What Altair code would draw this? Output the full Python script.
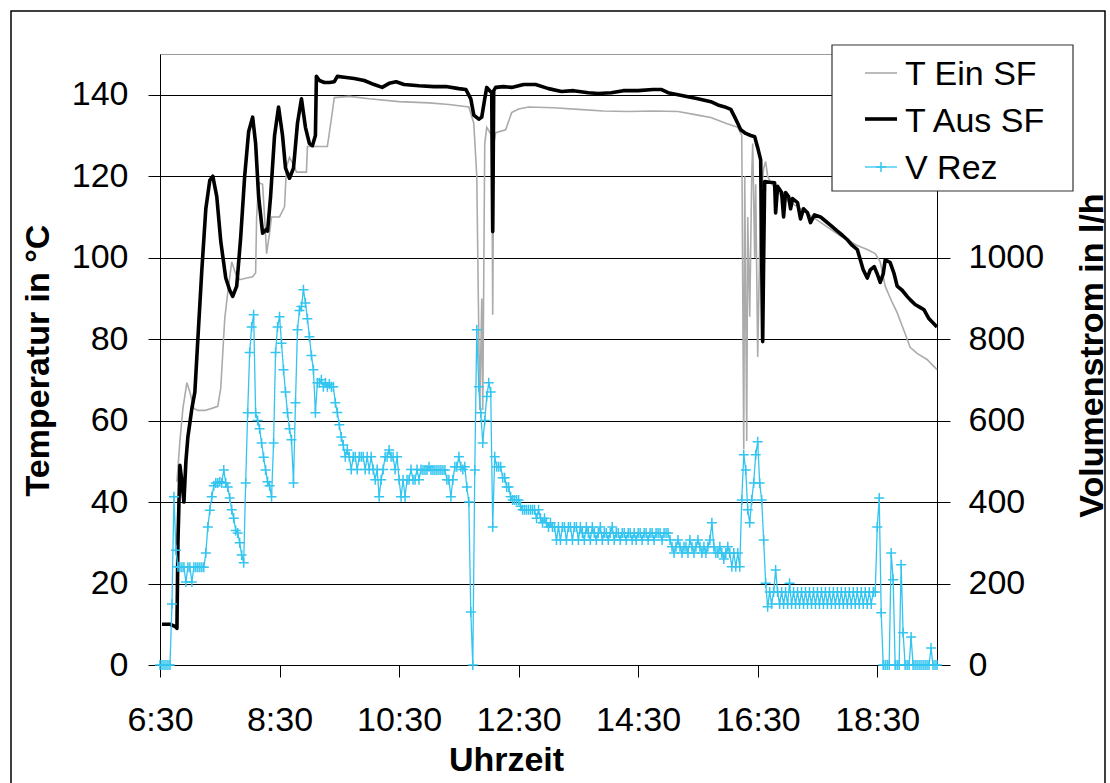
import altair as alt
import pandas as pd

# ---------------- data (time in minutes since midnight) ----------------
T_AUS = [(392, 10), (400, 10), (405, 9.5), (407, 9), (408, 30), (410, 49), (412, 45), (414, 40),
         (416, 50), (418, 56), (422, 63), (425, 67), (428, 80), (432, 97), (436, 112), (440, 119),
         (443, 120), (447, 115), (451, 104), (456, 95), (460, 92), (463, 90.5), (467, 93), (471, 105),
         (475, 120), (479, 131), (483, 134.5), (486, 128), (489, 115), (493, 106), (497, 107),
         (498, 106.5), (501, 115), (505, 130), (509, 137), (513, 130), (516, 122), (520, 119.5),
         (524, 122), (528, 133), (532, 139), (536, 132), (540, 128), (543, 127.5), (546, 130),
         (547, 144.5), (550, 143.5), (555, 143), (560, 143), (565, 143.2), (568, 144.5), (575, 144.3),
         (585, 144), (595, 143.5), (605, 142.5), (613, 141.8), (620, 142.8), (627, 143.2), (635, 142.5),
         (650, 142.2), (665, 142), (677, 142), (690, 141.5), (697, 141.3), (702, 139), (705, 135),
         (710, 134), (713, 134.5), (716, 139), (718, 141.8), (721, 141), (723, 140.5), (724, 106.4),
         (725, 141), (727, 141.8), (735, 142), (743, 141.8), (755, 142.5), (767, 142.5), (780, 141.5),
         (793, 140.8), (805, 141), (820, 140.5), (830, 140.3), (843, 140.5), (855, 141), (870, 141),
         (885, 141.3), (893, 141.3), (900, 140.5), (910, 140), (920, 139.5), (930, 139), (943, 138.3),
         (950, 137.5), (957, 137), (963, 136.4), (968, 134), (973, 131.4), (978, 130.5), (983, 130),
         (987, 129.7), (990, 127), (993, 124), (994, 100), (995, 79.4), (996, 100), (997, 118.7),
         (1002, 118.5), (1007, 118.4), (1008, 111), (1010, 117.5), (1014, 116), (1016, 110),
         (1018, 116), (1021, 115), (1023, 112), (1025, 114.5), (1030, 113.5), (1033, 109.5),
         (1036, 112), (1040, 111), (1043, 108.6), (1047, 110.5), (1053, 110), (1058, 109), (1063, 108),
         (1070, 106.5), (1075, 105.5), (1080, 104.4), (1085, 103), (1090, 102), (1093, 99.5),
         (1096, 97), (1100, 95), (1103, 97), (1107, 97.8), (1110, 96), (1113, 93.9), (1116, 96),
         (1118, 99.5), (1123, 98.8), (1127, 96), (1130, 93), (1135, 92), (1140, 90.5), (1143, 89.7),
         (1148, 88.5), (1153, 87.8), (1157, 87.2), (1162, 85), (1170, 83)]

T_EIN = [(407, 45), (410, 55), (413, 63), (417, 69.3), (420, 67), (424, 63), (428, 62.5), (435, 62.5),
         (442, 63), (448, 63.5), (451, 68), (453, 76.6), (455, 85), (458, 91.4), (462, 99), (466, 96),
         (470, 94.6), (477, 95), (483, 95.3), (486, 96.3), (487, 110), (489, 118.4), (493, 118),
         (495, 110), (497, 101), (500, 106), (502, 110), (510, 110), (515, 112.5), (517, 122.4),
         (520, 124.6), (523, 123.3), (527, 121), (537, 121), (538, 127.3), (547, 127.3), (558, 127.3),
         (562, 134), (565, 139.3), (580, 139.6), (600, 139), (630, 138.3), (660, 138), (680, 137.6),
         (700, 137), (705, 133), (708, 120), (711, 62.6), (713, 90), (714, 62.6), (716, 128),
         (718, 132), (723, 130), (724, 86), (725, 128), (727, 130.7), (737, 131.4), (743, 135.6),
         (750, 136.5), (760, 137), (785, 136.8), (810, 136.4), (835, 136), (860, 135.9), (885, 136),
         (910, 135.9), (930, 135), (943, 134.4), (958, 133), (970, 132), (974, 130), (976, 53),
         (977, 120), (979, 55), (980, 110), (982, 85.5), (984, 120), (985, 128), (987, 100),
         (988, 118), (990, 75.6), (993, 115), (996, 122), (998, 123.6), (1000, 120), (1002, 119),
         (1010, 116), (1020, 114), (1030, 112.5), (1045, 110), (1063, 107), (1075, 105), (1090, 103),
         (1100, 102), (1108, 101), (1113, 99), (1118, 93), (1125, 89), (1130, 86.5), (1137, 82),
         (1143, 78), (1150, 76.5), (1160, 75), (1170, 72.5)]

# V Rez, logged every 2 minutes from 6:30 (390) to 19:30 (1170), in l/h
V_REZ_START = 390
V_REZ_STEP = 2
V_REZ = [
    0, 0, 0, 0, 0, 0, 150, 413, 282, 241,            # 6:30
    240, 240, 240, 204, 240, 240, 204, 240, 240, 240,  # 6:50
    240, 240, 240, 275, 339, 380, 413, 440, 447, 447,  # 7:10
    450, 447, 479, 447, 437, 410, 381, 360, 330, 324,  # 7:30
    300, 270, 251, 447, 619, 767, 830, 860, 619, 600,  # 7:50
    580, 545, 510, 479, 450, 440, 413, 545, 767, 830,  # 8:10
    855, 790, 725, 670, 619, 580, 553, 447, 644, 823,  # 8:30
    870, 880, 921, 889, 850, 806, 760, 725, 619, 693,  # 8:50
    693, 700, 683, 693, 683, 690, 683, 683, 644, 620,  # 9:10
    590, 560, 540, 511, 528, 511, 480, 511, 511, 480,  # 9:30
    511, 511, 511, 480, 511, 480, 511, 480, 455, 480,  # 9:50
    413, 455, 480, 511, 511, 528, 511, 511, 480, 511,  # 10:10
    455, 413, 455, 413, 455, 455, 480, 455, 455, 480,  # 10:30
    455, 480, 479, 479, 479, 487, 479, 479, 479, 479,  # 10:50
    479, 479, 479, 479, 455, 455, 413, 455, 487, 487,  # 11:10
    511, 487, 480, 487, 437, 400, 130, 0, 479, 823,    # 11:30
    683, 619, 545, 600, 659, 693, 670, 339, 511, 487,  # 11:50
    487, 487, 460, 460, 437, 437, 413, 405, 405, 405,  # 12:10
    405, 390, 381, 381, 381, 381, 381, 381, 381, 360,  # 12:30
    381, 360, 349, 360, 349, 339, 349, 339, 339, 307,  # 12:50
    339, 307, 339, 339, 307, 339, 339, 307, 339, 339,  # 13:10
    307, 339, 324, 307, 339, 324, 307, 339, 324, 307,  # 13:30
    324, 339, 307, 324, 324, 307, 324, 339, 307, 324,  # 13:50
    324, 307, 324, 324, 307, 324, 324, 307, 324, 307,  # 14:10
    324, 324, 307, 324, 324, 307, 324, 324, 307, 324,  # 14:30
    324, 324, 307, 324, 324, 324, 307, 290, 275, 290,  # 14:50
    307, 290, 275, 290, 290, 275, 307, 290, 275, 290,  # 15:10
    307, 290, 275, 290, 275, 290, 307, 349, 290, 275,  # 15:30
    275, 290, 275, 260, 275, 290, 275, 241, 275, 241,  # 15:50
    275, 241, 405, 516, 479, 381, 349, 405, 447, 516,  # 16:10
    548, 447, 405, 307, 201, 143, 179, 150, 179, 233,  # 16:30
    179, 150, 179, 150, 179, 150, 201, 150, 179, 150,  # 16:50
    179, 150, 179, 150, 179, 150, 179, 150, 179, 150,  # 17:10
    179, 150, 179, 150, 179, 150, 179, 150, 179, 150,  # 17:30
    179, 150, 179, 150, 179, 150, 179, 150, 179, 150,  # 17:50
    179, 150, 179, 150, 179, 150, 179, 150, 179, 179,  # 18:10
    339, 410, 128, 0, 0, 0, 0, 275, 209, 0,            # 18:30
    0, 0, 246, 79, 0, 0, 0, 69, 0, 0,                  # 18:50
    0, 0, 0, 0, 0, 0, 0, 42, 0, 0,                     # 19:10
    0,                                                 # 19:30
]

X_TICKS = [390, 510, 630, 750, 870, 990, 1110]
Y_TICKS = [0, 20, 40, 60, 80, 100, 120, 140]
Y2_TICKS = [0, 200, 400, 600, 800, 1000]
LEGEND_LABELS = ["T Ein SF", "T Aus SF", "V Rez"]

GRAY = "#ababab"
BLACK = "#000000"
BLUE = "#33c5f0"
FONT = "Liberation Sans"

aus_df = pd.DataFrame(T_AUS, columns=["t", "v"])
ein_df = pd.DataFrame(T_EIN, columns=["t", "v"])
rez_df = pd.DataFrame({"t": [V_REZ_START + V_REZ_STEP * i for i in range(len(V_REZ))], "q": V_REZ})

W, H = 777, 611

x_enc = alt.X(
    "t:Q",
    scale=alt.Scale(domain=[390, 1170], nice=False, zero=False),
    axis=alt.Axis(
        values=X_TICKS,
        labelExpr="floor(datum.value/60) + ':' + (datum.value % 60 < 10 ? '0' : '') + (datum.value % 60)",
        labelFlush=False, labelOverlap=False,
        grid=False, domainColor="#000", tickColor="#000", tickSize=12,
        labelFont=FONT, labelFontSize=34, labelColor="#000", labelPadding=26,
        title="Uhrzeit", titleFont=FONT, titleFontSize=34, titleFontWeight="bold",
        titleColor="#000", titleX=346, titleY=105, titleBaseline="alphabetic", titleAlign="center",
    ),
)

y_left = alt.Y(
    "v:Q",
    scale=alt.Scale(domain=[0, 150], nice=False, zero=True),
    axis=alt.Axis(
        orient="left", values=Y_TICKS, grid=True, gridColor="#000", gridWidth=1,
        domainColor="#000", tickColor="#000", tickSize=12, labelFlush=False,
        labelFont=FONT, labelFontSize=34, labelColor="#000", labelPadding=20,
        title="Temperatur in °C", titleFont=FONT, titleFontSize=34, titleFontWeight="bold",
        titleColor="#000", titleAngle=270, titleX=-112, titleY=306,
        titleAlign="center", titleBaseline="alphabetic",
    ),
)

y_right = alt.Y(
    "q:Q",
    scale=alt.Scale(domain=[0, 1500], nice=False, zero=True),
    axis=alt.Axis(
        orient="right", values=Y2_TICKS, grid=False, format="d", labelFlush=False,
        domainColor="#000", tickColor="#000", tickSize=13,
        labelFont=FONT, labelFontSize=34, labelColor="#000", labelPadding=18,
        title="Volumenstrom in l/h", titleFont=FONT, titleFontSize=34, titleFontWeight="bold",
        titleColor="#000", titleAngle=270, titleX=165, titleY=301,
        titleAlign="center", titleBaseline="alphabetic",
    ),
)

ein = alt.Chart(ein_df).mark_line(color=GRAY, strokeWidth=1.6).encode(x=x_enc, y=y_left)
aus = alt.Chart(aus_df).mark_line(color=BLACK, strokeWidth=3.6, strokeJoin="round").encode(x=x_enc, y=y_left)
temps = alt.layer(ein, aus)

CROSS = "M-1,0L1,0M0,-1L0,1"
rez_line = alt.Chart(rez_df).mark_line(color=BLUE, strokeWidth=1.3).encode(x=x_enc, y=y_right)
rez_pts = alt.Chart(rez_df).mark_point(
    shape=CROSS, filled=False, color=BLUE, size=100, strokeWidth=1.5, opacity=1
).encode(x=x_enc, y=y_right)
flows = alt.layer(rez_line, rez_pts)

one = pd.DataFrame({"k": [0]})
base = alt.Chart(one)

# outer chart frame
frame = base.mark_rect(fill=None, stroke="#000", strokeWidth=1.5).encode(
    x=alt.value(-149), x2=alt.value(945), y=alt.value(-43), y2=alt.value(760))

# legend box
leg_box = base.mark_rect(fill="white", stroke="#333", strokeWidth=1.2).encode(
    x=alt.value(672), x2=alt.value(913), y=alt.value(-9), y2=alt.value(137))
leg_ein = base.mark_rule(color=GRAY, strokeWidth=1.6).encode(
    x=alt.value(705), x2=alt.value(737), y=alt.value(19))
leg_aus = base.mark_rule(color=BLACK, strokeWidth=3.6).encode(
    x=alt.value(705), x2=alt.value(737), y=alt.value(65))
leg_rez = base.mark_rule(color=BLUE, strokeWidth=1.3).encode(
    x=alt.value(705), x2=alt.value(737), y=alt.value(113))
leg_rez_pt = base.mark_point(
    shape=CROSS, filled=False, color=BLUE, size=100, strokeWidth=1.5, opacity=1
).encode(x=alt.value(721), y=alt.value(113))
leg_texts = [
    base.mark_text(align="left", baseline="alphabetic", font=FONT, fontSize=34, color="#000").encode(
        x=alt.value(745), y=alt.value(yy), text=alt.value(lbl))
    for lbl, yy in zip(LEGEND_LABELS, [31, 78, 125])
]

chart = alt.layer(
    temps, flows, frame, leg_box, leg_ein, leg_aus, leg_rez, leg_rez_pt, *leg_texts
).resolve_scale(y="independent").properties(
    width=W, height=H,
    autosize=alt.AutoSizeParams(type="none"),
    padding={"left": 160, "top": 54, "right": 173, "bottom": 118},
    background="white",
).configure_view(stroke="#9a9a9a", strokeWidth=1)

chart.save("out.html", embed_options={"renderer": "svg", "actions": False})
